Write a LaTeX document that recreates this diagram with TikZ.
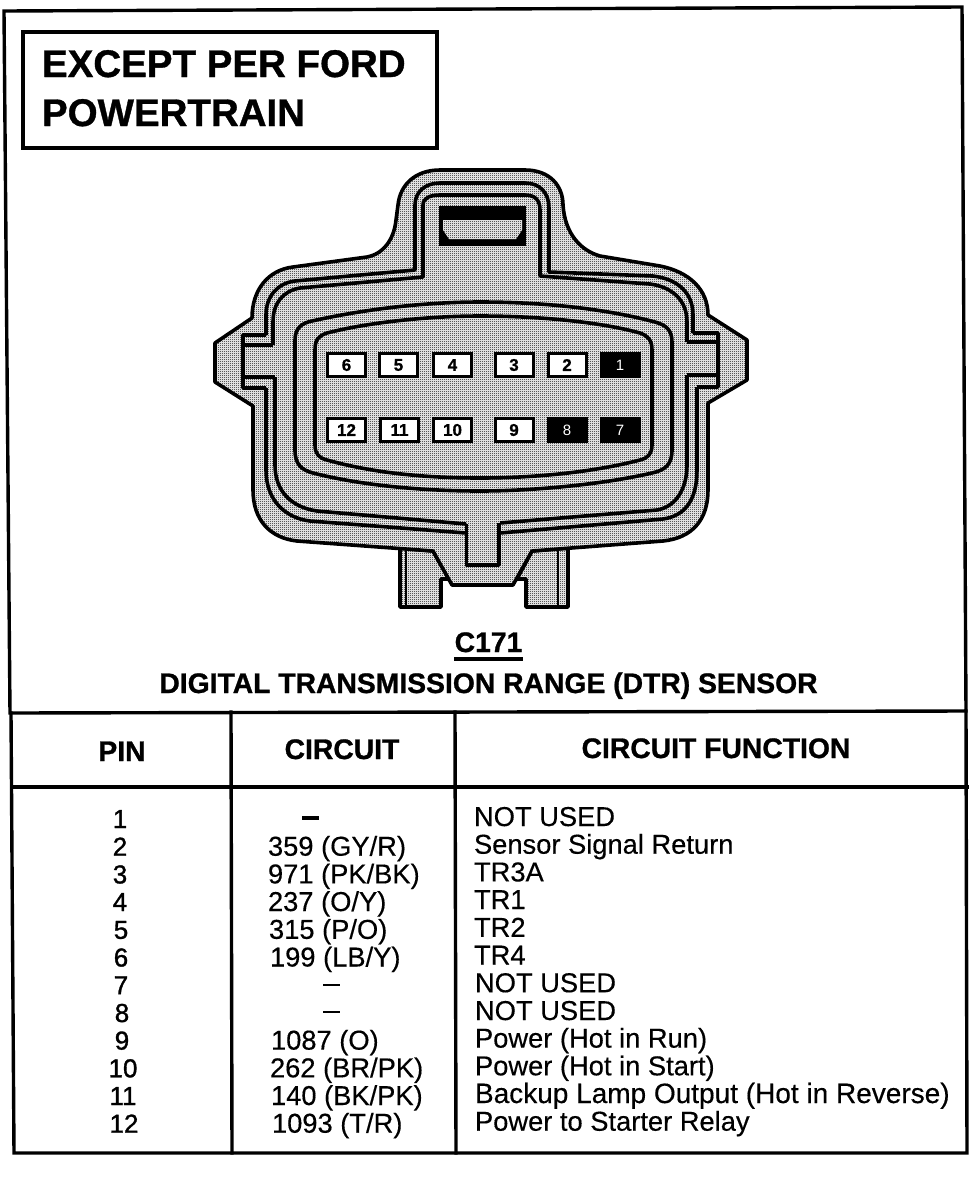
\documentclass[tikz,border=0pt]{standalone}
\usepackage{fontspec}
\setmainfont{Liberation Sans}
\newfontfamily\rowf[FakeBold=0.35]{Liberation Sans}
\newfontfamily\boldf[FakeBold=0.9,UprightFont=* Bold]{Liberation Sans}
\newfontfamily\pinf[FakeBold=1.2]{Liberation Sans}
\usetikzlibrary{patterns}
\pgfdeclarepatternformonly{dither}{\pgfqpoint{0bp}{0bp}}{\pgfqpoint{2bp}{2bp}}{\pgfqpoint{2bp}{2bp}}{%
  \pgfpathrectangle{\pgfqpoint{0bp}{0bp}}{\pgfqpoint{1bp}{1bp}}%
  \pgfpathrectangle{\pgfqpoint{1bp}{1bp}}{\pgfqpoint{1bp}{1bp}}%
  \pgfusepath{fill}}
\newcommand{\fs}[1]{\fontsize{#1bp}{#1bp}\selectfont}
\tikzset{
  x=1bp,y=-1bp,
  rule/.style={line width=3.4bp,line cap=rect},
  ring/.style={line width=3.6bp,line join=round},
  body/.style={preaction={fill=white},pattern=dither,draw=black,line width=3.6bp,line join=round},
  txt/.style={inner sep=0pt,outer sep=0pt,anchor=base west},
  ctr/.style={inner sep=0pt,outer sep=0pt,anchor=base},
  pinw/.style={draw=black,fill=white,line width=3bp,inner sep=0pt,minimum width=38bp,minimum height=23bp,font=\fs{17}\boldf},
  pinb/.style={draw=black,fill=black,text=white,line width=3bp,inner sep=0pt,minimum width=38bp,minimum height=23bp,font=\fs{15}},
  row/.style={font=\fs{27.3}\rowf},
  wide/.style={font=\fs{28}\rowf},
  pincol/.style={font=\fs{26}\pinf},
  head/.style={font=\fs{28.3}\boldf},
}
\begin{document}
\begin{tikzpicture}
\useasboundingbox (0,0) rectangle (978,1184);
\fill[white] (0,0) rectangle (978,1184);
% frame
\draw[rule] (4,11) -- (962,7) -- (966,711) -- (10,713) -- cycle;
\draw[rule] (23,32) rectangle (437,148);
\node[txt,font=\fs{38.5}\boldf] (t1) at (42,77) {EXCEPT PER FORD};
\node[txt,font=\fs{38.5}\boldf] (t2) at (42,126) {POWERTRAIN};
% connector
\draw[body] (400,548) -- (400,607) -- (441,607) -- (441,579) -- (449,579) -- (433,551) -- cycle;
\draw[body] (568,548) -- (568,607) -- (526,607) -- (526,579) -- (517,579) -- (532,551) -- cycle;
\draw[body] (440,170) -- (525,170) .. controls (550,170) and (563,186) .. (563,205)
  .. controls (565,235) and (582,251) .. (600,256) -- (660,266)
  .. controls (690,272) and (708,290) .. (708,315) -- (747,340) -- (747,380) -- (708,403) -- (708,490)
  .. controls (708,520) and (692,538) .. (663,541) -- (532,551) -- (513,585) -- (452,585) -- (433,551)
  -- (297,541) .. controls (270,538) and (253,520) .. (253,490) -- (253,406) -- (215,382) -- (215,343) -- (252,318)
  .. controls (252,290) and (268,270) .. (293,267) -- (367,257)
  .. controls (383,254) and (394,240) .. (396,220) -- (398,205)
  .. controls (400,185) and (415,170) .. (440,170) -- cycle;
% outer band lines
\draw[ring] (266,335) -- (266,315) .. controls (266,296) and (278,283) .. (295,281) -- (415,270) -- (415,205)
  .. controls (415,192) and (425,183) .. (440,183) -- (525,183) .. controls (540,183) and (549,193) .. (549,208)
  -- (549,272) -- (653,276) .. controls (678,279) and (693,293) .. (693,315) -- (693,333);
\draw[ring] (273,345) -- (273,322) .. controls (273,303) and (283,291) .. (300,288) -- (423,277) -- (423,205)
  .. controls (423,198) and (430,195) .. (440,195) -- (525,195) .. controls (535,195) and (540,200) .. (540,210)
  -- (540,276) -- (650,284) .. controls (672,287) and (687,300) .. (687,322) -- (687,342);
% side keys
\draw[ring] (266,335) -- (243,335) -- (243,388) -- (266,388);
\draw[ring] (243,345) -- (273,345);
\draw[ring] (243,377) -- (275,377);
\draw[ring] (693,333) -- (718,333) -- (718,387) -- (697,387);
\draw[ring] (718,342) -- (687,342);
\draw[ring] (718,375) -- (687,375);
\draw[ring] (266,388) -- (266,470) .. controls (266,500) and (285,518) .. (310,521) -- (466,533);
\draw[ring] (275,377) -- (275,465) .. controls (275,490) and (290,507) .. (317,511) -- (466,524);
\draw[ring] (697,387) -- (697,470) .. controls (697,500) and (685,516) .. (663,519) -- (500,533);
\draw[ring] (687,375) -- (687,465) .. controls (687,490) and (675,507) .. (657,510) -- (500,523);
\draw[ring] (466.5,524) -- (466.5,565) -- (499,565) -- (499,523);
\draw[line width=2bp] (406,551) -- (406,606);
\draw[line width=2bp] (558,551) -- (558,606);
% inner panels
\draw[ring] (295,340) .. controls (295,328) and (302,323) .. (312,321) .. controls (370,308) and (430,302) .. (480,302)
  .. controls (550,302) and (610,310) .. (655,322) .. controls (666,325) and (672,330) .. (672,342)
  -- (672,450) .. controls (672,465) and (665,470) .. (652,473) .. controls (600,485) and (530,491) .. (480,491)
  .. controls (420,491) and (360,485) .. (313,473) .. controls (302,470) and (295,465) .. (295,450) -- cycle;
\draw[ring] (315,350) .. controls (315,340) and (318,336) .. (327,333) .. controls (370,322) and (430,316) .. (480,316)
  .. controls (540,316) and (600,322) .. (640,333) .. controls (648,336) and (652,340) .. (652,350)
  -- (652,445) .. controls (652,454) and (648,458) .. (640,460) .. controls (590,473) and (530,478) .. (480,478)
  .. controls (420,478) and (370,472) .. (327,460) .. controls (319,458) and (315,454) .. (315,445) -- cycle;
% handle
\fill[black] (439,206) rectangle (526,246);
\path[preaction={fill=white},pattern=dither] (443,220) -- (522,220) -- (522,230) -- (516,239) -- (449,239) -- (443,230) -- cycle;
% pins
\node[pinw] (p6) at (346.5,365) {6};
\node[pinw] (p5) at (398.5,365) {5};
\node[pinw] (p4) at (452.5,365) {4};
\node[pinw] (p3) at (514,365) {3};
\node[pinw] (p2) at (567,365) {2};
\node[pinb] (p1) at (620,365) {1};
\node[pinw] (p12) at (346.5,430) {12};
\node[pinw] (p11) at (399.5,430) {11};
\node[pinw] (p10) at (452.5,430) {10};
\node[pinw] (p9) at (514,430) {9};
\node[pinb] (p8) at (567,430) {8};
\node[pinb] (p7) at (620,430) {7};
% captions
\node[ctr,head] (c171) at (488.5,652) {C171};
\draw[rule] (456,659) -- (521,659);
\node[ctr,head] (ttl) at (488.5,693) {DIGITAL TRANSMISSION RANGE (DTR) SENSOR};
% table
\draw[rule] (13,787) -- (967,787);
\draw[rule] (11,713) -- (14,1153) -- (967,1153) -- (966,711);
\draw[rule] (231,712) -- (232,1153);
\draw[rule] (455,712) -- (456,1153);
\node[ctr,head] (hp) at (122,761) {PIN};
\node[ctr,head] (hc) at (342,759) {CIRCUIT};
\node[ctr,head] (hf) at (716,758) {CIRCUIT FUNCTION};
% pin column
\node[ctr,pincol] (a1) at (120,828) {1};
\node[ctr,pincol] (a2) at (120,855.7) {2};
\node[ctr,pincol] (a3) at (120,883.4) {3};
\node[ctr,pincol] (a4) at (120,911) {4};
\node[ctr,pincol] (a5) at (121,938.8) {5};
\node[ctr,pincol] (a6) at (121,966.5) {6};
\node[ctr,pincol] (a7) at (121,994.2) {7};
\node[ctr,pincol] (a8) at (122,1022) {8};
\node[ctr,pincol] (a9) at (122,1049.6) {9};
\node[ctr,pincol] (a10) at (123,1077.3) {10};
\node[ctr,pincol] (a11) at (123,1105) {11};
\node[ctr,pincol] (a12) at (124,1132.7) {12};
% circuit column
\draw[line width=3.5bp] (302,818) -- (319,818);
\node[txt,row] (b2) at (268,855.7) {359 (GY/R)};
\node[txt,row] (b3) at (268,883.4) {971 (PK/BK)};
\node[txt,row] (b4) at (268,911) {237 (O/Y)};
\node[txt,row] (b5) at (269,938.8) {315 (P/O)};
\node[txt,row] (b6) at (270,966.5) {199 (LB/Y)};
\draw[line width=2.5bp] (323,985) -- (340,985);
\draw[line width=2.5bp] (323,1012) -- (340,1012);
\node[txt,row] (b9) at (271,1049.6) {1087 (O)};
\node[txt,row] (b10) at (270,1077.3) {262 (BR/PK)};
\node[txt,row] (b11) at (271,1105) {140 (BK/PK)};
\node[txt,row] (b12) at (272,1132.7) {1093 (T/R)};
% function column
\node[txt,row] (f1) at (474,826) {NOT USED};
\node[txt,row] (f2) at (474,853.7) {Sensor Signal Return};
\node[txt,row] (f3) at (474,881.4) {TR3A};
\node[txt,row] (f4) at (474,909) {TR1};
\node[txt,row] (f5) at (474,936.8) {TR2};
\node[txt,row] (f6) at (474,964.5) {TR4};
\node[txt,row] (f7) at (475,992.2) {NOT USED};
\node[txt,row] (f8) at (475,1020) {NOT USED};
\node[txt,row] (f9) at (475,1047.6) {Power (Hot in Run)};
\node[txt,row] (f10) at (475,1075.3) {Power (Hot in Start)};
\node[txt,wide] (f11) at (475,1103) {Backup Lamp Output (Hot in Reverse)};
\node[txt,row] (f12) at (475,1130.7) {Power to Starter Relay};
\end{tikzpicture}
\end{document}
